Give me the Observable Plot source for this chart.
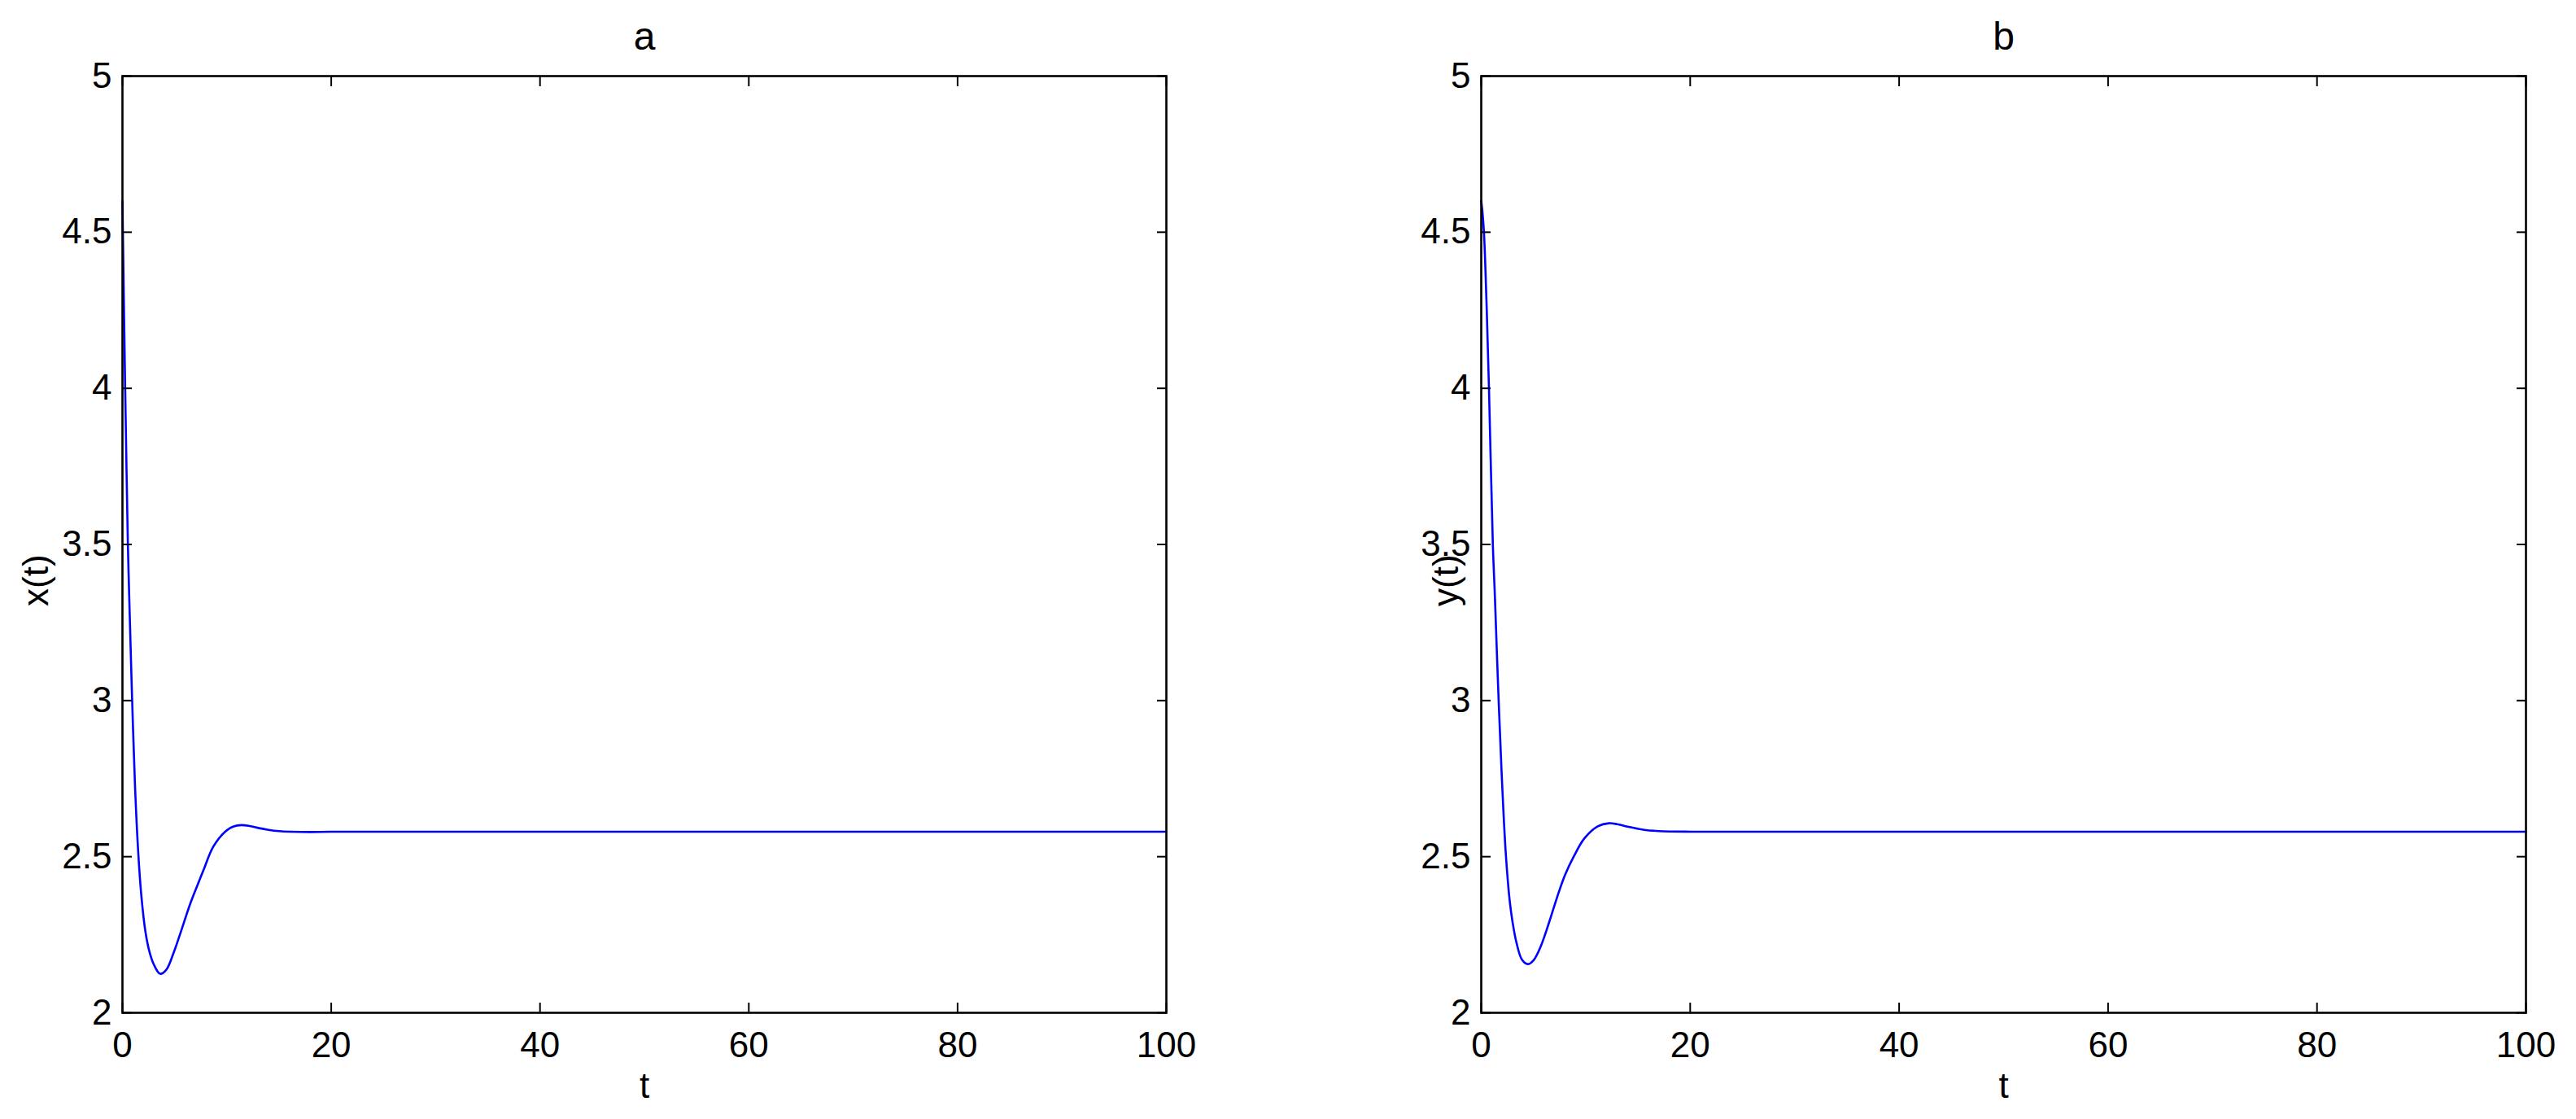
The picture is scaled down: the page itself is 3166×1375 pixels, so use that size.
<!DOCTYPE html>
<html>
<head>
<meta charset="utf-8">
<script src="https://cdn.jsdelivr.net/npm/d3@7"></script>
<script src="https://cdn.jsdelivr.net/npm/@observablehq/plot@0.6"></script>
<style>
  html, body { margin: 0; padding: 0; background: #fff; }
  #wrap { position: relative; width: 3166px; height: 1375px; background: #fff; }
  .panel { position: absolute; top: 0; }
</style>
</head>
<body>
<div id="wrap">
  <div class="panel" id="pa" style="left:0px"></div>
  <div class="panel" id="pb" style="left:1583px"></div>
</div>
<script>
// ---- data ----
const tA = [0, 0.13, 0.26, 0.39, 0.52, 0.7, 0.93, 1.2, 1.5, 1.81, 2.2, 2.59, 3.0, 3.6, 4.2, 4.93, 5.5, 6.5, 7.2, 7.8, 8.7, 9.9, 10.6, 11.4, 12.2, 13.0, 14.0, 15.0, 16.1, 18, 20, 30, 40, 50, 60, 70, 80, 90, 100];
const xA = [4.60, 4.29, 4.00, 3.74, 3.50, 3.27, 3.00, 2.73, 2.52, 2.375, 2.26, 2.195, 2.155, 2.125, 2.138, 2.195, 2.25, 2.35, 2.41, 2.46, 2.532, 2.582, 2.596, 2.601, 2.598, 2.592, 2.586, 2.582, 2.580, 2.579, 2.58, 2.58, 2.58, 2.58, 2.58, 2.58, 2.58, 2.58, 2.58];

const tB = [0, 0.1, 0.26, 0.5, 0.74, 1.11, 1.3, 1.5, 1.69, 1.95, 2.33, 2.72, 3.0, 3.37, 3.9, 4.46, 5.0, 5.71, 6.5, 7.26, 8.0, 8.82, 9.86, 11.15, 12.2, 13.0, 14.0, 15.6, 17, 20, 30, 40, 50, 60, 70, 80, 90, 100];
const yB = [4.60, 4.57, 4.50, 4.28, 4.00, 3.50, 3.34, 3.15, 2.98, 2.77, 2.52, 2.36, 2.29, 2.225, 2.17, 2.156, 2.168, 2.214, 2.29, 2.37, 2.44, 2.498, 2.558, 2.597, 2.607, 2.604, 2.596, 2.586, 2.582, 2.58, 2.58, 2.58, 2.58, 2.58, 2.58, 2.58, 2.58, 2.58];

const xTicks = [0, 20, 40, 60, 80, 100];
const xTickLabels = ["0", "20", "40", "60", "80", "100"];
const yTicks = [2, 2.5, 3, 3.5, 4, 4.5, 5];
const yTickLabels = ["2", "2.5", "3", "3.5", "4", "4.5", "5"];
const xDomain = [0, 100];
const yDomain = [2, 5];
const titles = ["a", "b"];
const yLabels = ["x(t)", "y(t)"];
const xLabel = "t";

const FONT = "'Liberation Sans', Arial, Helvetica, sans-serif";

function panel(t, v, title, ylab, ml, mr, ylabDx) {
  const data = t.map((d, i) => ({t: d, v: v[i]}));
  return Plot.plot({
    width: 1583,
    height: 1375,
    marginLeft: ml,
    marginRight: mr,
    marginTop: 93,
    marginBottom: 131,
    style: {fontFamily: FONT, fontSize: "44px", background: "white", color: "black"},
    x: {domain: xDomain, nice: false},
    y: {domain: yDomain, nice: false},
    marks: [
      Plot.line(data, {x: "t", y: "v", stroke: "#0000ff", strokeWidth: 2.6, curve: "catmull-rom"}),
      // inward ticks on all four sides
      Plot.axisX({anchor: "bottom", ticks: xTicks, tickSize: -12, fill: "none", stroke: "black", strokeWidth: 2}),
      Plot.axisX({anchor: "top", ticks: xTicks, tickSize: -12, fill: "none", stroke: "black", strokeWidth: 2}),
      Plot.axisY({anchor: "left", ticks: yTicks, tickSize: -12, fill: "none", stroke: "black", strokeWidth: 2}),
      Plot.axisY({anchor: "right", ticks: yTicks, tickSize: -12, fill: "none", stroke: "black", strokeWidth: 2}),
      // tick labels
      Plot.axisX({anchor: "bottom", ticks: xTicks, tickSize: 0, tickPadding: 23, stroke: "none", fill: "black",
        fontSize: 44, label: null, tickFormat: (d) => xTickLabels[xTicks.indexOf(d)]}),
      Plot.axisY({anchor: "left", ticks: yTicks, tickSize: 0, tickPadding: 13, stroke: "none", fill: "black",
        fontSize: 44, label: null, tickFormat: (d) => yTickLabels[yTicks.indexOf(d)]}),
      Plot.frame({stroke: "black", strokeWidth: 2.6}),
      // title and axis labels
      Plot.text([title], {text: (d) => d, frameAnchor: "top", dy: -48, lineAnchor: "middle", fontSize: 48, fill: "black"}),
      Plot.text([xLabel], {text: (d) => d, frameAnchor: "bottom", dy: 90, lineAnchor: "middle", fontSize: 44, fill: "black"}),
      Plot.text([ylab], {text: (d) => d, frameAnchor: "left", dx: ylabDx, dy: 76, rotate: -90, lineAnchor: "middle", fontSize: 44, fill: "black"})
    ]
  });
}

document.getElementById("pa").appendChild(panel(tA, xA, titles[0], yLabels[0], 150, 150, -106));
document.getElementById("pb").appendChild(panel(tB, yB, titles[1], yLabels[1], 237, 62, -43));
</script>
</body>
</html>
